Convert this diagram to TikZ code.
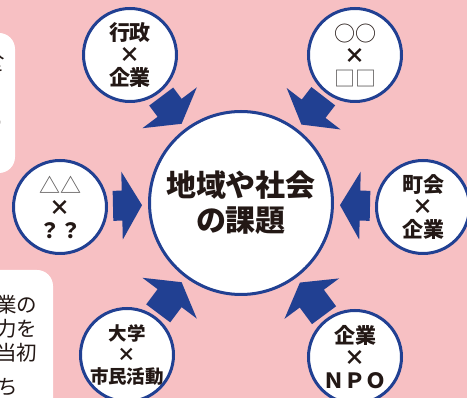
\documentclass[tikz,border=0pt]{standalone}
\usepackage{fontspec}
\setmainfont{Noto Sans CJK JP}
\usetikzlibrary{calc}
\definecolor{bgpink}{RGB}{247,192,195}
\definecolor{navy}{RGB}{33,64,146}
\definecolor{ink}{RGB}{35,24,21}
\definecolor{thin}{RGB}{90,88,88}
\newcommand\blockarrow[2]{%
  \coordinate (#1-tip) at ($(M)!99pt!(#1)$);
  \coordinate (#1-base) at ($(M)!119pt!(#1)$);
  \coordinate (#1-end) at ($(#1)!#2!(M)$);
  \fill[navy] (#1-tip) -- ($(#1-base)!34pt!90:(M)$) -- ($(#1-base)!15pt!90:(M)$)
    -- ($(#1-end)!15pt!90:(M)$) -- ($(#1-end)!15pt!-90:(M)$)
    -- ($(#1-base)!15pt!-90:(M)$) -- ($(#1-base)!34pt!-90:(M)$) -- cycle;}
\begin{document}
\begin{tikzpicture}[x=1pt,y=-1pt,
  small/.style={circle, draw=navy, line width=3pt, fill=white, minimum size=93pt, inner sep=0pt},
  big/.style={circle, draw=navy, line width=3pt, fill=white, minimum size=183pt, inner sep=0pt},
  lbl/.style={align=center, text=ink, font=\bfseries\fontsize{21}{22.5}\selectfont, inner sep=0pt},
  lbls/.style={align=center, text=ink, font=\bfseries\fontsize{18.5}{21.5}\selectfont, inner sep=0pt},
  mainlbl/.style={align=center, text=ink, font=\bfseries\fontsize{30}{35}\selectfont, inner sep=0pt},
  frag/.style={text=ink, font=\fontsize{20.5}{24}\selectfont, inner sep=0pt, anchor=east},
  note/.style={fill=white, rounded corners=16pt}]
\useasboundingbox (0,0) rectangle (467,398);
\clip (0,0) rectangle (467,398);
\fill[bgpink] (0,0) rectangle (467,398);
% side text boxes
\fill[note] (-40,33) rectangle (15,173);
\fill[note] (-40,270) rectangle (53,440);
\node[frag] (f1) at (5,51) {人};
\node[frag] (f2) at (5,73) {き};
\node[frag] (f3) at (5,123) {り};
\node[frag] (g1) at (37.5,305) {業の};
\node[frag] (g2) at (37.5,329) {力を};
\node[frag] (g3) at (37.5,353) {当初};
\node[frag] (g4) at (39,387) {ち　};
% circles
\node[big] (M) at (241,203) {};
\node[mainlbl] (Mt) at (M) {地域や社会\\の課題};
\node[small] (tl) at (130,55) {};
\node[lbl] (tlt) at (tl) {行政\\×\\企業};
\node[small] (tr) at (355,55) {};
\node[lbl] (trt) at (tr) {{\mdseries ○○}\\×\\{\mdseries\color{thin}□□}};
\node[small] (l) at (60,207) {};
\node[lbl] (lt) at (l) {{\mdseries\color{thin}△△}\\×\\？？};
\node[small] (r) at (423,207) {};
\node[lbl] (rt) at (r) {町会\\×\\企業};
\node[small] (bl) at (127,355) {};
\node[lbls] (blt) at (bl) {大学\\×\\市民活動};
\node[small] (br) at (355,357) {};
\node[lbl] (brt) at (br) {企業\\×\\ＮＰＯ};
% arrows
\blockarrow{tl}{52pt}
\blockarrow{tr}{52pt}
\blockarrow{l}{53pt}
\blockarrow{r}{53pt}
\blockarrow{bl}{52pt}
\blockarrow{br}{52pt}
\end{tikzpicture}
\end{document}
